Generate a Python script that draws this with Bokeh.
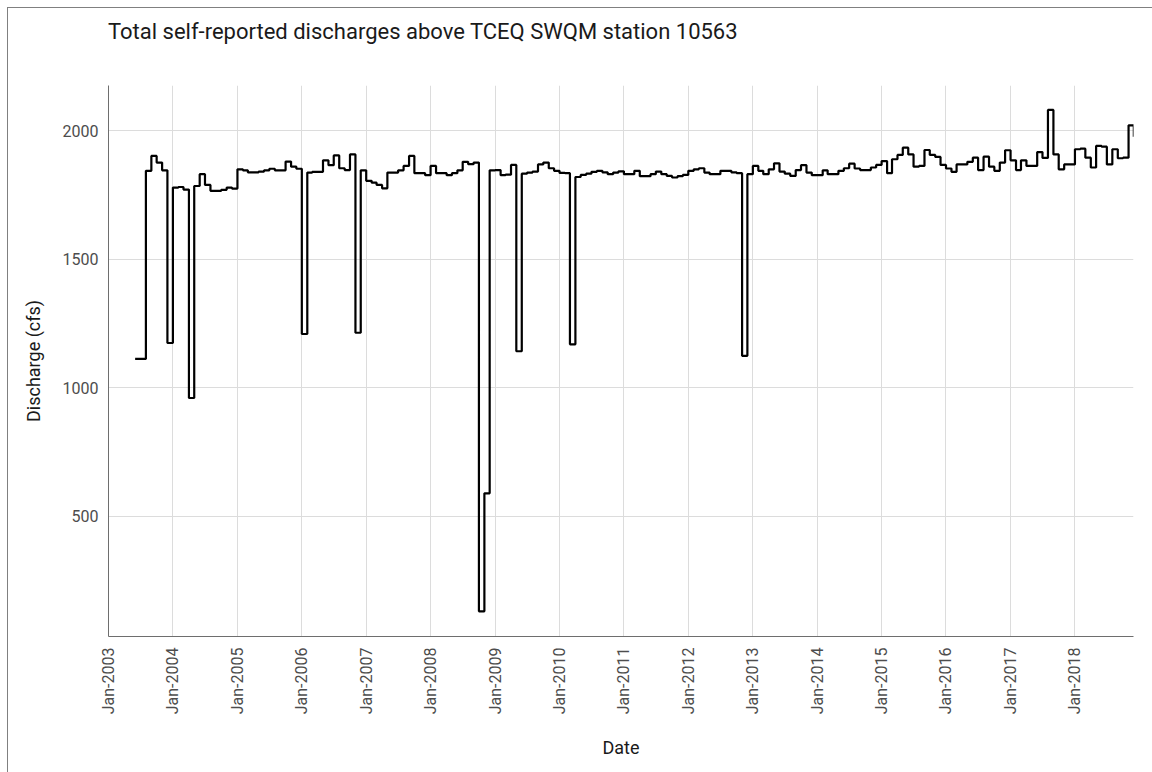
import math
import datetime as dt
from bokeh.plotting import figure
from bokeh.layouts import column
from bokeh.models import FixedTicker, Range1d, Div
from bokeh.embed import file_html
from bokeh.resources import INLINE

# ---- data (monthly, first value = Jun 2003) ----
first_year, first_month = 2003, 6
q2003 = [1113, 1113, 1845, 1903, 1877, 1847, 1175]
q2004 = [1780, 1782, 1772, 961, 1786, 1832, 1790, 1767, 1767, 1771, 1780, 1776]
q2005 = [1851, 1847, 1839, 1839, 1842, 1847, 1853, 1847, 1847, 1881, 1861, 1853]
q2006 = [1210, 1838, 1841, 1841, 1886, 1867, 1905, 1855, 1848, 1909, 1215, 1847]
q2007 = [1806, 1799, 1790, 1777, 1838, 1838, 1847, 1864, 1903, 1836, 1836, 1828]
q2008 = [1864, 1836, 1836, 1828, 1836, 1847, 1880, 1871, 1877, 131, 590, 1847]
q2009 = [1848, 1828, 1830, 1868, 1143, 1834, 1838, 1842, 1870, 1877, 1855, 1845]
q2010 = [1837, 1836, 1170, 1821, 1829, 1834, 1841, 1845, 1839, 1832, 1838, 1843]
q2011 = [1832, 1832, 1845, 1824, 1824, 1832, 1842, 1832, 1825, 1819, 1824, 1829]
q2012 = [1845, 1851, 1855, 1838, 1832, 1832, 1845, 1845, 1839, 1836, 1125, 1832]
q2013 = [1864, 1845, 1832, 1851, 1874, 1842, 1834, 1825, 1848, 1867, 1838, 1828]
q2014 = [1828, 1847, 1832, 1832, 1845, 1855, 1873, 1854, 1848, 1848, 1858, 1868]
q2015 = [1883, 1836, 1890, 1907, 1935, 1909, 1861, 1864, 1926, 1907, 1899, 1868]
q2016 = [1854, 1841, 1870, 1870, 1880, 1896, 1848, 1900, 1861, 1845, 1877, 1925]
q2017 = [1886, 1848, 1886, 1864, 1864, 1918, 1895, 2082, 1909, 1851, 1870, 1870]
q2018 = [1929, 1931, 1896, 1858, 1942, 1939, 1870, 1929, 1894, 1896, 2022, 1978]

tick_labels = ["Jan-%d" % y for y in range(2003, 2019)]
y_ticks = [500, 1000, 1500, 2000]
title_text = "Total self-reported discharges above TCEQ SWQM station 10563"

values = (q2003 + q2004 + q2005 + q2006 + q2007 + q2008 + q2009 + q2010 +
          q2011 + q2012 + q2013 + q2014 + q2015 + q2016 + q2017 + q2018)
dates = []
y, m = first_year, first_month
for _ in values:
    dates.append(dt.datetime(y, m, 1))
    m += 1
    if m > 12:
        m = 1
        y += 1

epoch = dt.datetime(1970, 1, 1)
def ms(d):
    return (d - epoch).total_seconds() * 1000.0

tick_ms = [ms(dt.datetime(int(lbl[-4:]), 1, 1)) for lbl in tick_labels]

FONT = "Roboto"
W = 1144
TITLE_H = 50
H = 764 - TITLE_H

title_div = Div(
    text=('<div style="padding:11px 0 0 100px; font-family:Roboto; font-size:22px; '
          'line-height:26px; color:#1a1a1a; white-space:nowrap;">%s</div>' % title_text),
    width=W, height=TITLE_H, margin=0)

p = figure(width=W, height=H, x_axis_type="datetime",
           output_backend="svg", toolbar_location=None,
           x_range=Range1d(dt.datetime(2003, 1, 1), dt.datetime(2018, 11, 29)),
           y_range=Range1d(33, 2177),
           min_border_left=100, min_border_right=19,
           min_border_top=27, min_border_bottom=136, margin=0)

p.step(dates, values, mode="after", line_color="black", line_width=2.2)

p.xaxis.ticker = FixedTicker(ticks=tick_ms)
p.xaxis.major_label_overrides = {t: l for t, l in zip(tick_ms, tick_labels)}
p.xaxis.major_label_orientation = math.pi / 2
p.yaxis.ticker = FixedTicker(ticks=y_ticks)

for ax in (p.xaxis, p.yaxis):
    ax.major_tick_line_color = None
    ax.minor_tick_line_color = None
    ax.axis_line_color = "#6e6e6e"
    ax.major_label_text_font = FONT
    ax.major_label_text_font_size = "16px"
    ax.major_label_text_color = "#4d4d4d"
    ax.major_label_standoff = 5
    ax.axis_label_text_font = FONT
    ax.axis_label_text_font_size = "18px"
    ax.axis_label_text_font_style = "normal"
    ax.axis_label_text_color = "#1a1a1a"

p.xaxis.axis_label = "Date"
p.yaxis.axis_label = "Discharge (cfs)"
p.xaxis.axis_label_standoff = 20
p.yaxis.axis_label_standoff = 16
p.yaxis.major_label_standoff = 4

p.xgrid.grid_line_color = "#dcdcdc"
p.ygrid.grid_line_color = "#dcdcdc"
p.grid.grid_line_width = 1
p.outline_line_color = None

layout = column(title_div, p, spacing=0)
layout.styles = {"margin-left": "7px", "margin-top": "7px",
                 "border-left": "1px solid #808080", "border-top": "1px solid #808080",
                 "background": "white"}

open("out.html", "w").write(file_html(layout, INLINE))
